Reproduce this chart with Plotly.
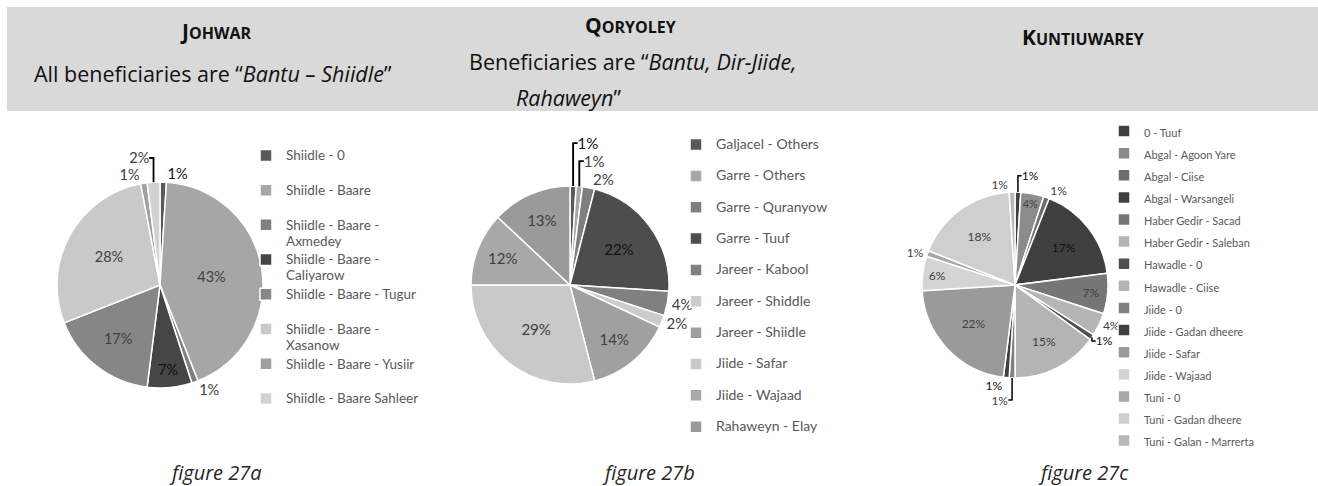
import plotly.graph_objects as go

W, H = 1318, 486
FONT = "Lato, 'Open Sans', sans-serif"
HEAD_FONT = "'Open Sans', Lato, sans-serif"

# ---------------- data ----------------
johwar_groups = [
    "Shiidle - 0", "Shiidle - Baare", "Shiidle - Baare - Axmedey",
    "Shiidle - Baare - Caliyarow", "Shiidle - Baare - Tugur",
    "Shiidle - Baare - Xasanow", "Shiidle - Baare - Yusiir",
    "Shiidle - Baare Sahleer",
]
johwar_pct = [1, 43, 1, 7, 17, 28, 1, 2]

qoryoley_groups = [
    "Galjacel - Others", "Garre - Others", "Garre - Quranyow", "Garre - Tuuf",
    "Jareer - Kabool", "Jareer - Shiddle", "Jareer - Shiidle", "Jiide - Safar",
    "Jiide - Wajaad", "Rahaweyn - Elay",
]
qoryoley_pct = [1, 1, 2, 22, 4, 2, 14, 29, 12, 13]

kuntiuwarey_groups = [
    "0 - Tuuf", "Abgal - Agoon Yare", "Abgal - Ciise", "Abgal - Warsangeli",
    "Haber Gedir - Sacad", "Haber Gedir - Saleban", "Hawadle - 0",
    "Hawadle - Ciise", "Jiide - 0", "Jiide - Gadan dheere", "Jiide - Safar",
    "Jiide - Wajaad", "Tuni - 0", "Tuni - Gadan dheere", "Tuni - Galan - Marrerta",
]
kuntiuwarey_pct = [1, 4, 1, 17, 7, 4, 1, 15, 1, 1, 22, 6, 1, 18, 1]

# ---------------- styles ----------------
johwar_colors = ["#595959", "#a6a6a6", "#7f7f7f", "#464646",
                 "#868686", "#c9c9c9", "#a0a0a0", "#d2d2d2"]
johwar_textpos = ["outside", "inside", "outside", "inside",
                  "inside", "inside", "outside", "outside"]

qoryoley_colors = ["#595959", "#a6a6a6", "#7f7f7f", "#4d4d4d", "#808080",
                   "#cccccc", "#a0a0a0", "#c9c9c9", "#a8a8a8", "#9a9a9a"]
qoryoley_textpos = ["outside", "outside", "outside", "inside", "outside",
                    "outside", "inside", "inside", "inside", "inside"]

kuntiuwarey_colors = ["#404040", "#8c8c8c", "#6e6e6e", "#3f3f3f", "#767676",
                      "#b5b5b5", "#505050", "#b4b4b4", "#808080", "#404040",
                      "#9a9a9a", "#d4d4d4", "#a8a8a8", "#cfcfcf", "#b8b8b8"]
kuntiuwarey_textpos = ["outside", "inside", "outside", "inside", "inside",
                       "outside", "outside", "inside", "outside", "outside",
                       "inside", "inside", "outside", "inside", "outside"]


def text_colors(colors):
    # darker label ink on the darkest slices
    out = []
    for c in colors:
        level = int(c[1:3], 16)
        out.append("#111111" if level < 0x60 else "#404040")
    return out


def fx(x):
    return x / W


def fy(y):
    return 1 - y / H


def domain(cx, cy, r):
    return dict(x=[fx(cx - r), fx(cx + r)], y=[fy(cy + r), fy(cy - r)])


def span(txt, px):
    return "<span style='font-size:%spx'>%s</span>" % (px, txt)


def wrap_two_lines(name, px, limit=24):
    # long names break after the last " - "; short ones get an empty second
    # line so every legend entry has the same height
    if len(name) > limit:
        head, tail = name.rsplit(" - ", 1)
        return span(head + " -", px) + "<br>" + span(tail, px)
    return span(name, px) + "<br>\u00a0"


legend1_labels = [wrap_two_lines(n, 13.5) for n in johwar_groups]
legend2_labels = [span(n, 14) + "<br>\u00a0" for n in qoryoley_groups]
legend3_labels = [span(n, 11) for n in kuntiuwarey_groups]

fig = go.Figure()

fig.add_trace(go.Pie(
    labels=legend1_labels, values=johwar_pct, sort=False, direction="clockwise",
    rotation=0, domain=domain(160, 285, 103), legend="legend",
    marker=dict(colors=johwar_colors, line=dict(color="white", width=1.5)),
    texttemplate="%{percent:.0%}", textposition=johwar_textpos,
    insidetextorientation="horizontal",
    textfont=dict(family=FONT, size=14.5, color=text_colors(johwar_colors)),
    hoverinfo="label+percent",
))

fig.add_trace(go.Pie(
    labels=legend2_labels, values=qoryoley_pct, sort=False, direction="clockwise",
    rotation=0, domain=domain(570, 285, 99), legend="legend2",
    marker=dict(colors=qoryoley_colors, line=dict(color="white", width=1.5)),
    texttemplate="%{percent:.0%}", textposition=qoryoley_textpos,
    insidetextorientation="horizontal",
    textfont=dict(family=FONT, size=15, color=text_colors(qoryoley_colors)),
    hoverinfo="label+percent",
))

fig.add_trace(go.Pie(
    labels=legend3_labels, values=kuntiuwarey_pct, sort=False, direction="clockwise",
    rotation=0, domain=domain(1015, 285, 93), legend="legend3",
    marker=dict(colors=kuntiuwarey_colors, line=dict(color="white", width=1.5)),
    texttemplate="%{percent:.0%}", textposition=kuntiuwarey_textpos,
    insidetextorientation="horizontal",
    textfont=dict(family=FONT, size=12, color=text_colors(kuntiuwarey_colors)),
    hoverinfo="label+percent",
))

legend_common = dict(xanchor="left", yanchor="top", bgcolor="rgba(0,0,0,0)",
                     itemwidth=30, orientation="v")


def small_caps(word, small):
    return "<b>%s<span style='font-size:%spx'>%s</span></b>" % (word[0], small, word[1:])


annotations = [
    # header band titles
    dict(x=fx(215), y=fy(31), text=small_caps("JOHWAR", 16), font=dict(size=21)),
    dict(x=fx(213), y=fy(73), text="All beneficiaries are “<i>Bantu – Shiidle</i>”",
         font=dict(size=21.5)),
    dict(x=fx(630), y=fy(25), text=small_caps("QORYOLEY", 16), font=dict(size=21)),
    dict(x=fx(633), y=fy(62), text="Beneficiaries are “<i>Bantu, Dir-Jiide,</i>",
         font=dict(size=21.5)),
    dict(x=fx(568), y=fy(98), text="<i>Rahaweyn</i>”", font=dict(size=21.5)),
    dict(x=fx(1083), y=fy(37), text=small_caps("KUNTIUWAREY", 16), font=dict(size=21)),
    # captions
    dict(x=fx(215), y=fy(472), text="<i>figure 27a</i>", font=dict(size=20, color="#262626")),
    dict(x=fx(648), y=fy(472), text="<i>figure 27b</i>", font=dict(size=20, color="#262626")),
    dict(x=fx(1083), y=fy(472), text="<i>figure 27c</i>", font=dict(size=20, color="#262626")),
]
for a in annotations:
    a.update(xref="paper", yref="paper", showarrow=False, xanchor="center", yanchor="middle")
    a["font"] = dict(family=HEAD_FONT, color=a["font"].get("color", "#111111"),
                     size=a["font"]["size"])

fig.update_layout(
    width=W, height=H,
    margin=dict(l=0, r=0, t=0, b=0),
    paper_bgcolor="white", plot_bgcolor="white",
    font=dict(family=FONT, color="#404040"),
    showlegend=True,
    legend=dict(x=fx(246), y=fy(141), valign="top",
                font=dict(family=FONT, size=12.2, color="#595959"), **legend_common),
    legend2=dict(x=fx(676), y=fy(131), valign="top",
                 font=dict(family=FONT, size=10.9, color="#595959"), **legend_common),
    legend3=dict(x=fx(1104), y=fy(115), valign="middle",
                 font=dict(family=FONT, size=14.7, color="#595959"), **legend_common),
    shapes=[dict(type="rect", xref="paper", yref="paper",
                 x0=fx(7), x1=1, y0=fy(111), y1=fy(7),
                 fillcolor="#d9d9d9", line=dict(width=0), layer="below")],
    annotations=annotations,
)

fig.write_html("out.html")
